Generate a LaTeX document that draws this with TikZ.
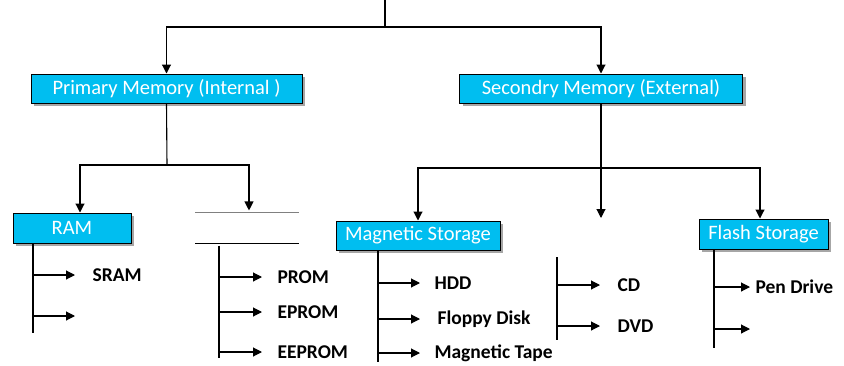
\documentclass[tikz,border=0pt]{standalone}
\usepackage{fontspec}
\setmainfont{Carlito}
\usetikzlibrary{arrows.meta,shadows}
\definecolor{boxblue}{RGB}{0,190,240}
\begin{document}
\begin{tikzpicture}[x=1pt,y=-1pt,line width=1.1pt,
  box/.style={draw=black,line width=1pt,fill=boxblue,text=white,inner sep=0pt,
    font=\fontsize{20.5}{22}\selectfont,
    drop shadow={shadow xshift=3pt,shadow yshift=-3pt,fill=gray!70,opacity=1}},
  leaf/.style={anchor=west,inner sep=0pt,font=\bfseries\fontsize{19.5}{21}\selectfont},
  arr/.style={-{Triangle[length=9pt,width=9pt]}}]  % memory tree

\useasboundingbox (0,0) rectangle (844,365);

\coordinate (top) at (385,0);
\coordinate (split) at (385,27);

\node[box,minimum width=271pt,minimum height=29pt] (primary) at (166.5,88.5) {Primary Memory (Internal )};
\node[box,minimum width=283pt,minimum height=29pt] (secondary) at (601,88.5) {Secondry Memory (External)};

\draw (top) -- (split);
\draw[arr] (split) -| (primary.north);
\draw[arr] (split) -| (secondary.north);

\coordinate (pjoin) at (167,165);
\node[box,minimum width=118pt,minimum height=30pt] (ram) at (72,228) {RAM};
\node[minimum width=102pt,minimum height=30pt,inner sep=0pt] (rom) at (247,228) {};
\draw[gray,line width=0.8pt] (rom.north west) -- (rom.north east);
\draw (rom.south west) -- (rom.south east);

\draw (primary.south) -- (pjoin);
\draw[arr] (pjoin) -| ([xshift=8pt]ram.north);
\draw[arr] (pjoin) -| ([xshift=2pt,yshift=2pt]rom.north);

\coordinate (sjoin) at (601,168);
\node[box,minimum width=164pt,minimum height=29pt] (magnetic) at (418,235.5) {Magnetic Storage};
\coordinate (optical) at (601,218);
\node[box,minimum width=129pt,minimum height=30pt] (flash) at (763.5,234) {Flash Storage};

\draw (secondary.south) -- (sjoin);
\draw[arr] (sjoin) -| (magnetic.north);
\draw[arr] (sjoin) -- (optical);
\draw[arr] (sjoin) -| ([xshift=-3.5pt]flash.north);

\coordinate (ramend) at (33,333);
\draw (ram.south -| ramend) -- (ramend);
\node[leaf] (sram) at (92,275) {SRAM};
\draw[arr] (sram.west -| ramend) -- ++(42,0);
\coordinate (dram) at (75,316);
\draw[arr] (dram -| ramend) -- (dram);

\coordinate (romend) at (219,358);
\draw ([yshift=-2pt]rom.south -| romend) -- (romend);
\node[leaf] (prom) at (277,277) {PROM};
\node[leaf] (eprom) at (277,312) {EPROM};
\node[leaf] (eeprom) at (277,352) {EEPROM};
\draw[arr] (prom.west -| romend) -- ++(43,0);
\draw[arr] (eprom.west -| romend) -- ++(43,0);
\draw[arr] (eeprom.west -| romend) -- ++(43,0);

\coordinate (magend) at (378,362);
\draw (magnetic.south -| magend) -- (magend);
\node[leaf] (hdd) at (434,283) {HDD};
\node[leaf] (floppy) at (437,319) {Floppy Disk};
\node[leaf] (tape) at (434,353) {Magnetic Tape};
\draw[arr] (hdd.west -| magend) -- ++(42,0);
\draw[arr] (floppy.west -| magend) -- ++(42,0);
\draw[arr] (tape.west -| magend) -- ++(42,0);

\coordinate (opttop) at (557,257);
\coordinate (optend) at (557,340);
\draw (opttop) -- (optend);
\node[leaf] (cd) at (617,285) {CD};
\node[leaf] (dvd) at (617,326) {DVD};
\draw[arr] (cd.west -| optend) -- ++(43,0);
\draw[arr] (dvd.west -| optend) -- ++(43,0);

\coordinate (flashend) at (714,348);
\draw (flash.south -| flashend) -- (flashend);
\node[leaf] (pen) at (755,287) {Pen Drive};
\draw[arr] (pen.west -| flashend) -- ++(36,0);
\coordinate (usb) at (750,329);
\draw[arr] (usb -| flashend) -- (usb);

\end{tikzpicture}
\end{document}
